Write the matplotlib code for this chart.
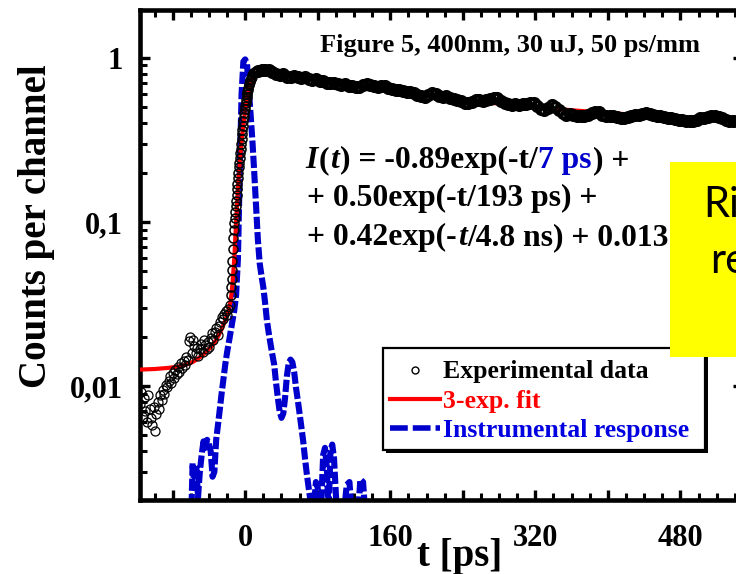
import numpy as np
import matplotlib
matplotlib.use("Agg")
import matplotlib.pyplot as plt
from matplotlib.patches import Rectangle
from matplotlib.lines import Line2D
from matplotlib.ticker import MultipleLocator, FuncFormatter, LogLocator, NullFormatter

# ---------------- data ----------------
# experimental data: pre-pulse tail (uniform channels from -116 to -17 ps)
tail_y = [0.0078, 0.0092, 0.0065, 0.0085, 0.0070, 0.0060, 0.0088, 0.0072, 0.0064, 0.0058,
          0.0075, 0.0053, 0.0068, 0.0080, 0.0072, 0.0088, 0.0082, 0.0095, 0.0090, 0.0102,
          0.0098, 0.0108, 0.0115, 0.0105, 0.0120, 0.0112, 0.0125, 0.0118, 0.0130, 0.0122,
          0.0138, 0.0128, 0.0142, 0.0135, 0.0150, 0.0145, 0.0188, 0.0198, 0.0160, 0.0192,
          0.0175, 0.0158, 0.0170, 0.0152, 0.0168, 0.0180, 0.0162, 0.0190, 0.0178, 0.0168,
          0.0185, 0.0172, 0.0195, 0.0210, 0.0190, 0.0215, 0.0225, 0.0205, 0.0232, 0.0245,
          0.0262, 0.0255, 0.0275, 0.0285, 0.0270, 0.0295, 0.0310]
tail_t = np.linspace(-116, -17, len(tail_y))

# experimental data: rising edge
rise_t = [-16.0, -15.5, -15.0, -14.5, -14.0, -13.5, -13.0, -12.5, -12.0, -11.5, -11.0, -10.5,
          -10.0, -9.5, -9.0, -8.5, -8.0, -7.5, -7.0, -6.5, -6.0, -5.5, -5.0, -4.5, -4.0, -3.5,
          -3.0, -2.5, -2.0, -1.5, -1.0, -0.5, 0.0, 0.5, 1.0, 1.5, 2.0, 2.5, 3.0, 3.5, 4.0, 4.5,
          5.0, 5.5, 6.0, 7.0, 8.0, 9.0, 10.0, 11.0, 12.0]
rise_y = [0.036, 0.040, 0.045, 0.051, 0.058, 0.068, 0.080, 0.089, 0.098, 0.106, 0.115, 0.125,
          0.135, 0.146, 0.158, 0.171, 0.185, 0.200, 0.215, 0.230, 0.245, 0.262, 0.280, 0.300,
          0.320, 0.342, 0.365, 0.387, 0.410, 0.435, 0.460, 0.485, 0.510, 0.532, 0.555, 0.578,
          0.600, 0.620, 0.640, 0.660, 0.680, 0.698, 0.715, 0.730, 0.745, 0.770, 0.790, 0.805,
          0.815, 0.825, 0.830]

# experimental data: slow decay (uniform channels from 14 to 550 ps)
decay_y = [0.835, 0.845, 0.850, 0.840, 0.820, 0.800, 0.790, 0.795, 0.770, 0.760,
           0.775, 0.760, 0.750, 0.765, 0.745, 0.735, 0.740, 0.725, 0.720, 0.705,
           0.700, 0.705, 0.690, 0.685, 0.690, 0.675, 0.670, 0.662, 0.668, 0.680,
           0.690, 0.684, 0.672, 0.665, 0.678, 0.672, 0.655, 0.648, 0.640, 0.635,
           0.630, 0.622, 0.618, 0.610, 0.598, 0.585, 0.580, 0.595, 0.612, 0.600,
           0.588, 0.580, 0.585, 0.572, 0.560, 0.555, 0.548, 0.535, 0.530, 0.540,
           0.552, 0.558, 0.550, 0.556, 0.565, 0.572, 0.568, 0.550, 0.535, 0.522,
           0.520, 0.526, 0.518, 0.522, 0.525, 0.532, 0.530, 0.510, 0.490, 0.482,
           0.495, 0.515, 0.505, 0.480, 0.462, 0.452, 0.455, 0.448, 0.445, 0.440,
           0.442, 0.450, 0.462, 0.470, 0.465, 0.452, 0.445, 0.440, 0.442, 0.436,
           0.432, 0.430, 0.436, 0.444, 0.450, 0.448, 0.455, 0.460, 0.458, 0.450,
           0.445, 0.440, 0.438, 0.432, 0.428, 0.422, 0.420, 0.416, 0.412, 0.410,
           0.415, 0.420, 0.428, 0.432, 0.436, 0.440, 0.442, 0.438, 0.430, 0.418,
           0.410, 0.412, 0.415, 0.418, 0.416]
decay_t = np.linspace(14, 550, len(decay_y))

# 3-exponential fit
fit_t = [-116, -100, -85, -75, -65, -58, -52, -46, -40, -35, -30, -26, -22, -19, -16, -14, -12,
         -10, -8, -6, -4, -2, 0, 2, 4, 6, 8, 10, 13, 17, 22, 28, 35, 45, 60, 80, 100, 125, 150,
         175, 200, 225, 250, 275, 300, 325, 350, 375, 400, 425, 450, 475, 500, 525, 550]
fit_y = [0.0126, 0.0127, 0.0129, 0.0131, 0.0135, 0.0140, 0.0147, 0.0156, 0.0168, 0.0180,
         0.0200, 0.0222, 0.0250, 0.0280, 0.0330, 0.0420, 0.0600, 0.1000, 0.1600, 0.2300,
         0.3100, 0.3900, 0.4800, 0.5700, 0.6500, 0.7100, 0.7600, 0.7900, 0.8150, 0.8300,
         0.8320, 0.8200, 0.8000, 0.7800, 0.7550, 0.7250, 0.6950, 0.6650, 0.6400, 0.6150,
         0.5900, 0.5700, 0.5500, 0.5300, 0.5150, 0.5000, 0.4850, 0.4730, 0.4620, 0.4520,
         0.4430, 0.4350, 0.4280, 0.4220, 0.4170]

# instrumental response
irf_t = [-62, -59, -58, -56, -54, -52, -50, -48, -46, -44, -42, -40, -38, -36, -34, -32, -30,
         -28, -26, -24, -22, -20, -18, -16, -14, -12, -10, -8, -6, -4, -2, 0, 2, 4, 6, 8, 10,
         12, 14, 16, 18, 20, 22, 24, 26, 28, 30, 32, 34, 36, 38, 40, 42, 44, 46, 48, 50, 52,
         54, 56, 58, 60, 62, 64, 66, 68, 70, 72, 74, 76, 78, 80, 82, 84, 86, 88, 90, 92, 94,
         96, 98, 100, 102, 108, 112, 115, 118, 124, 127, 130, 133, 140]
irf_y = [0.0015, 0.0020, 0.0034, 0.0024, 0.0033, 0.0021, 0.0030, 0.0038, 0.0046, 0.0042,
         0.0047, 0.0044, 0.0040, 0.0028, 0.0030, 0.0047, 0.0058, 0.0072, 0.0090, 0.0110,
         0.0135, 0.0160, 0.0185, 0.0215, 0.025, 0.029, 0.036, 0.060, 0.20, 0.60, 0.95, 0.98,
         0.92, 0.64, 0.45, 0.31, 0.20, 0.125, 0.078, 0.056, 0.047, 0.040, 0.032, 0.025, 0.021,
         0.018, 0.0155, 0.0135, 0.0105, 0.0085, 0.0070, 0.0064, 0.0068, 0.0085, 0.0115, 0.0138,
         0.0145, 0.0140, 0.0122, 0.0098, 0.0082, 0.0068, 0.0056, 0.0046, 0.0036, 0.0029,
         0.0024, 0.0020, 0.0017, 0.0019, 0.0026, 0.0024, 0.0017, 0.0020, 0.0038, 0.0042,
         0.0032, 0.0017, 0.0040, 0.0044, 0.0036, 0.0022, 0.0015, 0.0015, 0.0025, 0.0026,
         0.0015, 0.0015, 0.0027, 0.0026, 0.0015, 0.0012]

x_label_ticks = [0, 160, 320, 480]
y_tick_labels = {1.0: "1", 0.1: "0,1", 0.01: "0,01"}
legend_labels = ["Experimental data", "3-exp. fit", "Instrumental response"]

# ---------------- styling ----------------
SERIF = "Liberation Serif"
BLUE = "#0000CC"
W, H = 736, 574

fig = plt.figure(figsize=(W / 100, H / 100), dpi=100)
ax = fig.add_axes([140 / W, 74 / H, 603 / W, 490 / H])
ax.set_yscale("log")
ax.set_xlim(-116, 549)
ax.set_ylim(0.00202, 1.96)

ax.plot(irf_t, irf_y, color=BLUE, lw=4.4, dashes=(2.0, 0.5), zorder=2)
ax.plot(fit_t, fit_y, color="red", lw=3.0, zorder=3)
ax.plot(tail_t, tail_y, ls="none", marker="o", ms=6.5, mfc="none", mec="black", mew=0.9, zorder=4)
ax.plot(rise_t, rise_y, ls="none", marker="o", ms=6.5, mfc="none", mec="black", mew=1.1, zorder=4)
ax.plot(decay_t, decay_y, ls="none", marker="o", ms=7.0, mfc="none", mec="black", mew=2.4, zorder=4)

for s in ax.spines.values():
    s.set_linewidth(3.3)
ax.xaxis.set_major_locator(MultipleLocator(80))
ax.xaxis.set_minor_locator(MultipleLocator(20))
ax.xaxis.set_major_formatter(FuncFormatter(lambda v, p: str(int(round(v))) if int(round(v)) in x_label_ticks else ""))
ax.yaxis.set_major_locator(LogLocator(base=10))
ax.yaxis.set_minor_locator(LogLocator(base=10, subs=np.arange(2, 10)))
ax.yaxis.set_minor_formatter(NullFormatter())
ax.yaxis.set_major_formatter(FuncFormatter(lambda v, p: next((lab for k, lab in y_tick_labels.items() if abs(v - k) / k < 1e-6), "")))
ax.tick_params(which="both", direction="in", top=True, right=True)
ax.tick_params(which="major", length=7.5, width=2.4)
ax.tick_params(which="minor", length=5, width=2.2)
ax.tick_params(axis="x", which="major", pad=17)
ax.tick_params(axis="y", which="major", pad=12)
for lab in ax.get_xticklabels() + ax.get_yticklabels():
    lab.set_fontfamily(SERIF)
    lab.set_fontweight("bold")
    lab.set_fontsize(22)

# ---------------- overlay in pixel coordinates ----------------
ov = fig.add_axes([0, 0, 1, 1], zorder=10)
ov.set_xlim(0, W)
ov.set_ylim(H, 0)
ov.axis("off")
ov.patch.set_alpha(0)

def txt(x, y, s, size, **kw):
    kw.setdefault("ha", "left")
    kw.setdefault("va", "baseline")
    return ov.text(x, y, s, fontsize=size, family=SERIF, fontweight="bold", **kw)

txt(460, 566, "t [ps]", 28, ha="center")
txt(37, 226, "Counts per channel", 28, ha="center", va="center", rotation=90)
txt(320, 52, "Figure 5, 400nm, 30 uJ, 50 ps/mm", 19)

renderer = fig.canvas.get_renderer()
def runs(x, y, parts, size):
    for s, style, color in parts:
        t = txt(x, y, s, size, fontstyle=style, color=color)
        x += t.get_window_extent(renderer=renderer).width + 1

FS = 22.8
runs(305, 168, [("I", "italic", "black"), ("(", "normal", "black"), ("t", "italic", "black"),
                (") = -0.89exp(-t/", "normal", "black"), ("7 ps", "normal", BLUE),
                (") +", "normal", "black")], FS)
runs(307, 206, [("+ 0.50exp(-t/193 ps) +", "normal", "black")], FS)
runs(307, 245, [("+ 0.42exp(-", "normal", "black"), ("t", "italic", "black"),
                ("/4.8 ns) + 0.013", "normal", "black")], FS)

# legend
ov.add_patch(Rectangle((386, 351), 322, 102, fc="black", ec="none", zorder=1))
ov.add_patch(Rectangle((383, 348), 322, 102, fc="white", ec="black", lw=1.6, zorder=2))
ov.add_line(Line2D([415], [370], ls="none", marker="o", ms=5, mfc="none", mec="black", mew=1.0, zorder=3))
ov.add_line(Line2D([390, 440], [399, 399], color="red", lw=3.0, zorder=3))
ov.add_line(Line2D([390, 440], [428, 428], color=BLUE, lw=4.0, dashes=(3.2, 0.9), zorder=3))
leg_colors = ["black", "red", "#0000E0"]
for i, (lab, c) in enumerate(zip(legend_labels, leg_colors)):
    t = txt(443, [378, 408, 437][i], lab, 18.5, color=c)
    t.set_zorder(3)

# yellow note box (cut off at the image edge, as in the reference)
ov.add_patch(Rectangle((670, 162), 90, 195, fc="#FFFF00", ec="none", zorder=5))
ov.text(703, 217, "Ri", fontsize=30, family="Lato", color="black", ha="left", va="baseline", zorder=6)
ov.text(710, 273, "re", fontsize=30, family="Lato", color="black", ha="left", va="baseline", zorder=6)

fig.savefig("out.png", dpi=100)
